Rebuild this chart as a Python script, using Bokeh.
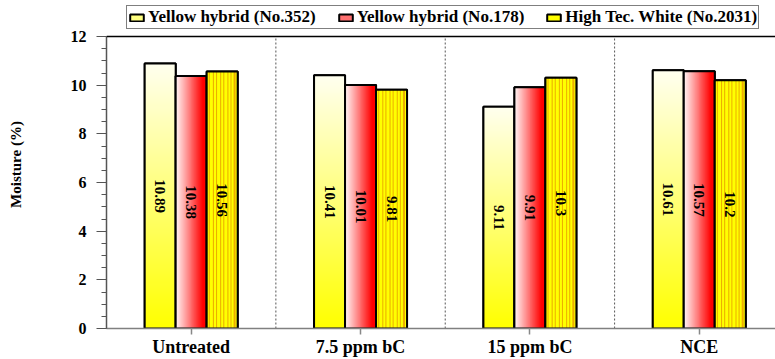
import numpy as np
from bokeh.plotting import figure
from bokeh.models import (Range1d, FixedTicker, Span, Legend, LegendItem,
                          ColumnDataSource)
from bokeh.core.properties import value
from bokeh.embed import file_html
from bokeh.resources import INLINE

# Moisture content (%) of three maize varieties under four treatments
categories = ["Untreated", "7.5 ppm bC", "15 ppm bC", "NCE"]
series_names = ["Yellow hybrid (No.352)", "Yellow hybrid (No.178)",
                "High Tec. White (No.2031)"]
no352 = [10.89, 10.41, 9.11, 10.61]
no178 = [10.38, 10.01, 9.91, 10.57]
no2031 = [10.56, 9.81, 10.3, 10.2]
y_ticks = [0, 2, 4, 6, 8, 10, 12]

FONT = "Liberation Serif"
BAR_W = 0.183
Y_MAX = 12
FRAME_H = 328            # frame spans the full height above the x axis
TOP_PAD = 36             # room above the axis maximum for the legend

p = figure(width=775, height=359, output_backend="svg", toolbar_location=None,
           x_range=Range1d(-0.5, 3.45),
           y_range=Range1d(0, Y_MAX * FRAME_H / (FRAME_H - TOP_PAD)),
           min_border_left=106, min_border_right=0,
           min_border_top=0, min_border_bottom=359 - FRAME_H)
p.outline_line_color = None
p.xgrid.visible = False
p.ygrid.visible = False
p.background_fill_color = "white"
p.border_fill_color = "white"

xs = np.arange(len(categories), dtype=float)
offsets = [-BAR_W, 0.0, BAR_W]


def rgba(r, g, b):
    return (np.uint32(255) << 24) | (np.uint32(b) << 16) | (np.uint32(g) << 8) | np.uint32(r)


# vertical gradient: pale cream at the top, yellow at the base
n = 256
grad_v = np.zeros((n, 1), dtype=np.uint32)
for i, tt in enumerate(np.linspace(0, 1, n)):
    grad_v[i, 0] = rgba(255, 255, int(round(240 * tt)))

# horizontal gradient: near-white on the left, red on the right
m = 64
grad_h = np.zeros((1, m), dtype=np.uint32)
for j, tt in enumerate(np.linspace(0, 1, m)):
    k = max(0.0, 1 - tt / 0.85)
    gb = int(round(248 * k))
    grad_h[0, j] = rgba(255, gb, gb)

# vertical stripes: thin amber lines on yellow
stripe_cols = []
for _ in range(9):
    stripe_cols += [rgba(255, 255, 0), rgba(255, 255, 0), rgba(236, 176, 0)]
stripes = np.array([stripe_cols], dtype=np.uint32)

legend_items = []


def gradient_bars(xc, vals, img, legend_fill, label):
    r = p.vbar(x=xc, top=vals, width=BAR_W, fill_color=legend_fill,
               line_color="black", line_width=2)
    p.image_rgba(image=[img] * len(xc), x=xc - BAR_W / 2, y=[0] * len(xc),
                 dw=[BAR_W] * len(xc), dh=vals)
    p.vbar(x=xc, top=vals, width=BAR_W, fill_color=None,
           line_color="black", line_width=2)
    legend_items.append(LegendItem(label=label, renderers=[r]))


x1 = xs + offsets[0]
x2 = xs + offsets[1]
x3 = xs + offsets[2]
gradient_bars(x1, no352, grad_v, "#FFFF80", series_names[0])
gradient_bars(x2, no178, grad_h, "#FF7070", series_names[1])
gradient_bars(x3, no2031, stripes, "#FFFF00", series_names[2])

# value labels, rotated, at mid-height of each bar
for xv, vals in ((x1, no352), (x2, no178), (x3, no2031)):
    src = ColumnDataSource(dict(x=xv, y=[v / 2 for v in vals],
                                t=[f"{v:g}" for v in vals]))
    p.text(x="x", y="y", text="t", source=src, angle=-np.pi / 2,
           text_align="center", text_baseline="middle",
           text_font=value(FONT), text_font_style="bold",
           text_font_size="15px", text_color="black")

# dashed separators between treatment groups
seps = xs[:-1] + 0.5
p.segment(x0=seps, y0=[0] * len(seps), x1=seps, y1=[Y_MAX] * len(seps),
          line_color="#555555", line_width=1, line_dash="2 2")

# top border line at the axis maximum
p.add_layout(Span(location=Y_MAX, dimension="width", line_color="black",
                  line_width=1.5))

# axes
xa = p.xaxis[0]
xa.ticker = FixedTicker(ticks=list(xs))
xa.major_label_overrides = {i: c for i, c in enumerate(categories)}
xa.minor_tick_line_color = None
xa.major_tick_out = 6
xa.major_tick_in = 0
xa.major_tick_line_color = "#888888"
xa.major_tick_line_width = 1.5
xa.axis_line_color = "#808080"
xa.axis_line_width = 1.5
xa.major_label_text_font = FONT
xa.major_label_text_font_style = "bold"
xa.major_label_text_font_size = "18px"
xa.major_label_text_color = "black"
xa.major_label_standoff = 2

ya = p.yaxis[0]
ya.bounds = (0, Y_MAX)
ya.ticker = FixedTicker(ticks=y_ticks,
                        minor_ticks=[k * 0.5 for k in range(2 * Y_MAX + 1)])
ya.major_tick_out = 10
ya.major_tick_in = 0
ya.minor_tick_out = 5
ya.minor_tick_in = 0
ya.major_tick_line_color = "#555555"
ya.minor_tick_line_color = "#555555"
ya.axis_line_color = "#555555"
ya.axis_line_width = 1.5
ya.major_label_text_font = FONT
ya.major_label_text_font_style = "bold"
ya.major_label_text_font_size = "16px"
ya.major_label_text_color = "black"
ya.major_label_standoff = 10
ya.axis_label = "Moisture (%)"
ya.axis_label_text_font = FONT
ya.axis_label_text_font_style = "bold"
ya.axis_label_text_font_size = "15px"
ya.axis_label_text_color = "black"
ya.axis_label_standoff = 44

legend = Legend(items=legend_items, orientation="horizontal",
                location=(20, FRAME_H - 29), padding=1, margin=0, spacing=21,
                glyph_width=17, glyph_height=9, label_standoff=3,
                label_height=18,
                label_text_font=FONT, label_text_font_style="bold",
                label_text_font_size="17px", label_text_color="black",
                border_line_color="black", border_line_width=1,
                background_fill_color="white", background_fill_alpha=1)
p.add_layout(legend, "center")

open("out.html", "w").write(file_html(p, INLINE))
